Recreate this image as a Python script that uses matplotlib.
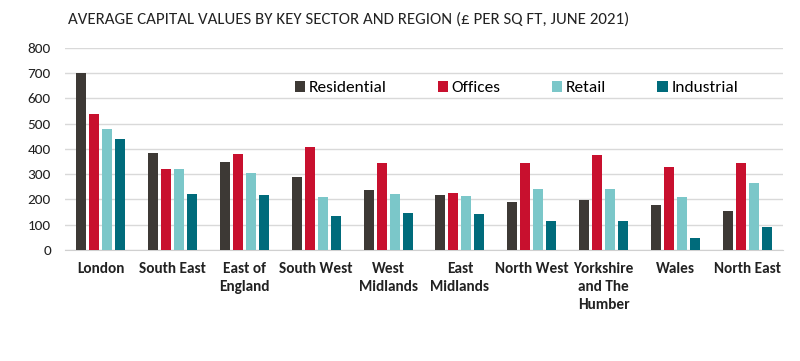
import matplotlib.pyplot as plt
import numpy as np

plt.rcParams['font.family'] = ['Carlito', 'DejaVu Sans']

regiones = ['London', 'South East', 'East of\nEngland', 'South West', 'West\nMidlands',
            'East\nMidlands', 'North West', 'Yorkshire\nand The\nHumber', 'Wales', 'North East']
residential = [700, 382, 350, 288, 236, 218, 188, 199, 179, 154]
offices = [540, 322, 378, 408, 345, 224, 345, 375, 329, 344]
retail = [478, 322, 305, 208, 220, 212, 240, 240, 208, 265]
industrial = [440, 220, 218, 133, 145, 142, 116, 116, 49, 90]

series = [('Residential', residential, '#3d3935'),
          ('Offices', offices, '#c8102e'),
          ('Retail', retail, '#7bc7c9'),
          ('Industrial', industrial, '#006b7b')]

fig = plt.figure(figsize=(8, 3.61), dpi=100)
ax = fig.add_axes([0.081, 0.3075, 0.898, 0.56])

x = np.arange(len(regiones))
step = 0.181
bw = 0.14
for k, (nombre, vals, color) in enumerate(series):
    ax.bar(x + (k - 1.5) * step, vals, width=bw, color=color, label=nombre, zorder=3)

ax.set_xlim(-0.5, len(regiones) - 0.5)
ax.set_ylim(0, 800)
ax.set_yticks(range(0, 801, 100))
ax.yaxis.grid(True, color='#d9d9d9', linewidth=1)
ax.set_axisbelow(True)
for s in ['top', 'right', 'left']:
    ax.spines[s].set_visible(False)
ax.spines['bottom'].set_color('#d0d0d0')
ax.tick_params(axis='both', length=0)
ax.tick_params(axis='y', labelsize=11, colors='#222222', pad=10)
ax.set_xticks(x)
ax.set_xticklabels(regiones, fontsize=11, fontweight='bold', color='#222222', linespacing=1.35)
ax.tick_params(axis='x', pad=9)

fig.text(68 / 800, 1 - 20 / 361, 'AVERAGE CAPITAL VALUES BY KEY SECTOR AND REGION (£ PER SQ FT, JUNE 2021)',
         fontsize=12.2, color='#222222', va='center')

fig.legend(*ax.get_legend_handles_labels(), loc='center left',
           bbox_to_anchor=(295 / 800, 1 - 88 / 361), ncol=4, frameon=False,
           fontsize=12.5, handlelength=0.6, handleheight=0.6, handletextpad=0.2,
           columnspacing=2.95, borderpad=0, borderaxespad=0)

fig.savefig('out.png', dpi=100, facecolor='white')
